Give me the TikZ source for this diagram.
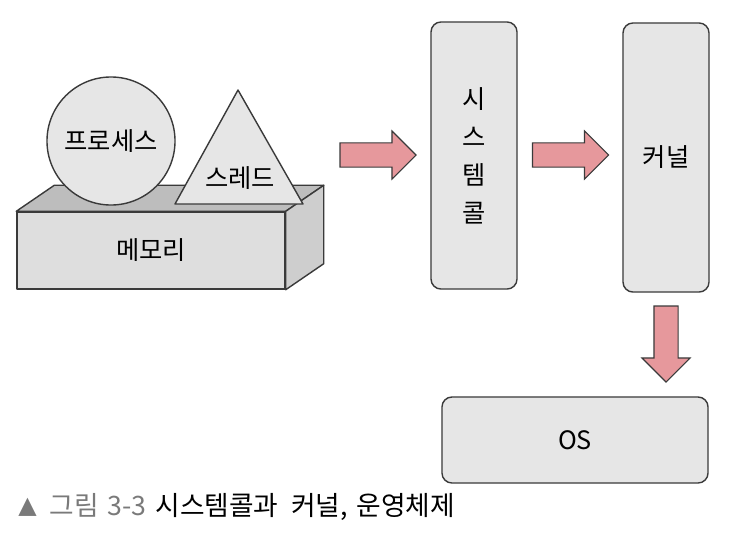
\documentclass[tikz,border=0pt]{standalone}
\usepackage{fontspec}
\setmainfont{Noto Sans CJK KR}
\newfontfamily\symfont{DejaVu Sans}
\usepackage{xcolor}
\usepackage{tikz}
\usetikzlibrary{shapes.geometric,shapes.arrows,positioning,calc}

\definecolor{boxgray}{HTML}{E6E6E6}
\definecolor{frontgray}{HTML}{DEDEDE}
\definecolor{topgray}{HTML}{BDBDBD}
\definecolor{sidegray}{HTML}{CECECE}
\definecolor{edgegray}{HTML}{3A3A3A}
\definecolor{arrowpink}{HTML}{E6989C}
\definecolor{capgray}{HTML}{7A7A7A}

\begin{document}
\begin{tikzpicture}[x=0.025cm, y=-0.025cm,
    box/.style={draw=edgegray, line width=1pt, fill=boxgray, rounded corners=0.25cm,
                align=center, text=black, font=\fontsize{18}{27}\selectfont},
    face/.style={draw=edgegray, line width=1pt, line join=round},
    bigarrow/.style={single arrow, draw=edgegray, line width=0.8pt, fill=arrowpink,
                     minimum height=1.9cm, minimum width=1.175cm,
                     single arrow head extend=0.3cm, inner xsep=0pt, inner ysep=0.2875cm},
    tag/.style={text=black, font=\fontsize{18}{21}\selectfont}
]
\useasboundingbox (0,0) rectangle (730,540);

% memory block
\node[face, fill=frontgray, minimum width=6.7cm, minimum height=1.925cm, inner sep=0pt,
      tag] (mem) at (151,250.5) {메모리};
\draw[face, fill=topgray] (mem.north west) -- ++(38,-26) -- ($(mem.north east)+(38,-26)$)
  -- (mem.north east) -- cycle;
\draw[face, fill=sidegray] (mem.north east) -- ++(38,-26) -- ($(mem.south east)+(38,-26)$)
  -- (mem.south east) -- cycle;

\node[circle, face, fill=boxgray, minimum size=3.2cm, inner sep=0pt, tag] (proc) at (111,141) {프로세스};
\draw[face, fill=boxgray] (238,90) -- (303,204) -- (175,204) -- cycle;
\node[tag] (thread) at (240,178) {스레드};

% system call, kernel, OS
\node[box, minimum width=2.15cm, minimum height=6.675cm] (sys) at (474,155.5) {시\\스\\템\\콜};
\node[box, minimum width=2.15cm, minimum height=6.725cm] (kern) at (666,157.5) {커널};
\node[box, minimum width=6.65cm, minimum height=2.15cm] (os) at (575,440) {OS};

\node[bigarrow] (a1) at (372,155) {};
\node[bigarrow] (a2) at (564.5,155) {};
\node[bigarrow, rotate=-90] (a3) at (666,338) {};

\node[anchor=west, inner sep=0pt, font=\fontsize{19}{22}\selectfont] (caption) at (18,507)
  {{\color{capgray}\raisebox{0.08em}{\symfont\fontsize{17}{18}\selectfont ▲}\hspace{0.33cm}그림\hspace{0.22cm}3-3}\hspace{0.22cm}시스템콜과\hspace{0.32cm}커널,\hspace{0.22cm}운영체제};
\end{tikzpicture}
\end{document}
